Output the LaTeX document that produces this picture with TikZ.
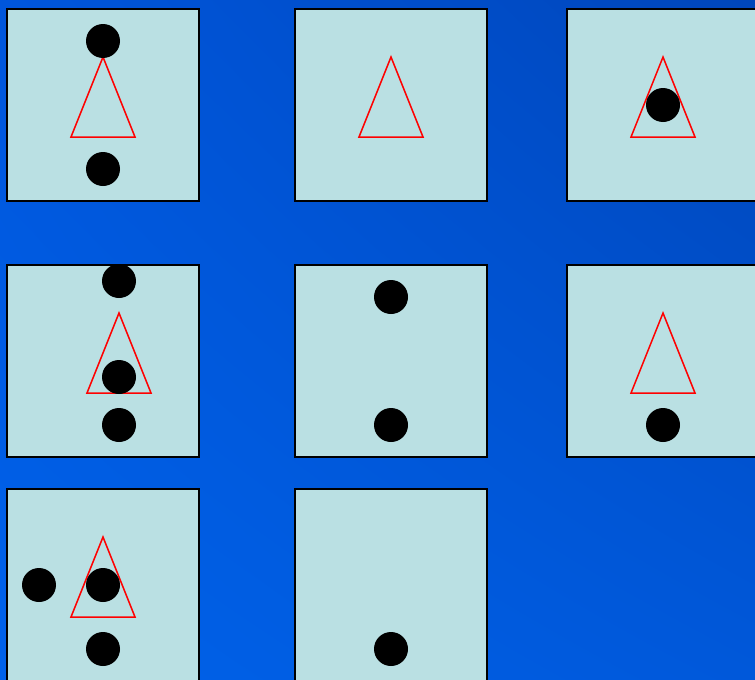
\documentclass[tikz,border=0pt]{standalone}
\usepackage{tikz}
\usetikzlibrary{positioning, shadings}
\definecolor{panelfill}{HTML}{BAE0E3}
\definecolor{bgul}{HTML}{0056DC}
\definecolor{bgll}{HTML}{0062EA}
\definecolor{bgur}{HTML}{0046BA}
\definecolor{bglr}{HTML}{0058DA}
\tikzstyle{panel} = [draw=black, line width=1.5pt, fill=panelfill]
\tikzstyle{tri} = [draw=red, line width=1.5pt, line join=miter]
\tikzstyle{dot} = [fill=black]

\begin{document}
\begin{tikzpicture}[x=1pt, y=-1pt]

    % Background
    \useasboundingbox (0,0) rectangle (755,680);
    \shade[upper left=bgul, lower left=bgll, upper right=bgur, lower right=bglr] (0,0) rectangle (755,680);

    % Panels (top-left corners)
    \foreach \name/\px/\py in {pA/7/9, pB/295/9, pC/567/9,
                               pD/7/265, pE/295/265, pF/567/265,
                               pG/7/489, pH/295/489}
        \coordinate (\name) at (\px,\py);

    \foreach \name in {pA, pB, pC, pD, pE, pF, pG, pH}
        \draw[panel] (\name) rectangle ++(192,192);

    % Triangles
    \foreach \name/\dx in {pA/96, pB/96, pC/96, pD/112, pF/96, pG/96}
        \draw[tri] ([shift={(\dx,48)}]\name) -- ++(32,80) -- ++(-64,0) -- cycle;

    % Dots
    \foreach \name/\dx/\dy in {pA/96/32, pA/96/160,
                               pC/96/96,
                               pD/112/16, pD/112/112, pD/112/160,
                               pE/96/32, pE/96/160,
                               pF/96/160,
                               pG/32/96, pG/96/96, pG/96/160,
                               pH/96/160}
        \fill[dot] ([shift={(\dx,\dy)}]\name) circle (17);

\end{tikzpicture}
\end{document}
